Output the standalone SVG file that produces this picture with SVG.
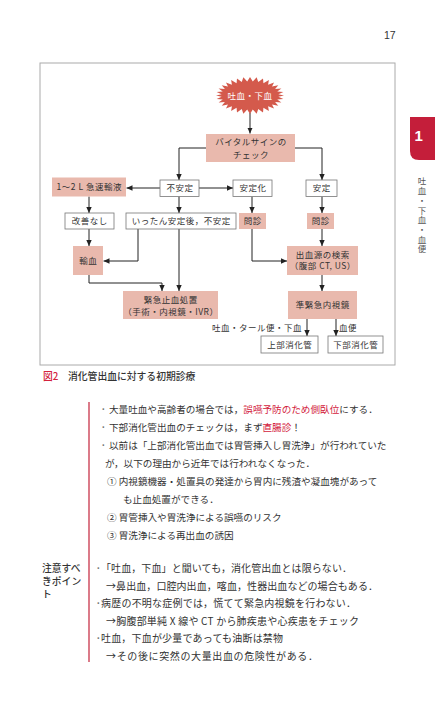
<svg xmlns="http://www.w3.org/2000/svg" width="435" height="720" viewBox="0 0 435 720">
<defs>
<marker id="ah" markerWidth="6" markerHeight="6" refX="6" refY="3" orient="auto" markerUnits="userSpaceOnUse">
<path d="M0,0.3 L6,3 L0,5.7 z" fill="#222"/>
</marker>
<style>
.fc{font-family:"Noto Sans CJK JP","Noto Sans",sans-serif;font-size:8.5px;fill:#333;letter-spacing:0.5px;text-anchor:middle}
.pk{fill:#e9b9ad}
.wb{fill:#fff;stroke:#777;stroke-width:0.8}
.cn{fill:none;stroke:#222;stroke-width:1}
.cn path{marker-end:url(#ah)}
.tx{font-family:"Noto Sans CJK JP","Noto Sans",sans-serif;font-size:9.6px;fill:#333}
.tx2{font-family:"Noto Sans CJK JP","Noto Sans",sans-serif;font-size:10px;fill:#333}
.bl{font-family:"Noto Sans",sans-serif;font-size:7px;fill:#777}
.rd{fill:#d3223d}
.lb{font-family:"Noto Sans CJK JP","Noto Sans",sans-serif;font-size:9.8px;font-weight:500;fill:#333}
</style>
</defs>
<rect width="435" height="720" fill="#fff"/>

<!-- page number and tab -->
<text x="384" y="39" font-family="Liberation Sans,Arial,sans-serif" font-size="10.5" fill="#333">17</text>
<path d="M410,117 H435 V160 H419 Q410,160 410,151 Z" fill="#c41e3a"/>
<text x="414.5" y="141" font-family="Liberation Sans,Arial,sans-serif" font-size="15" font-weight="bold" fill="#fff">1</text>
<text x="422" y="177" font-family="Noto Sans CJK JP,sans-serif" font-size="8.5" fill="#555" letter-spacing="1.2" style="writing-mode:vertical-rl">吐血・下血・血便</text>

<!-- frame -->
<rect x="40" y="63" width="355" height="302" fill="none" stroke="#aaa" stroke-width="1"/>

<!-- connectors -->
<g id="connectors" class="cn">
<path d="M250,113 V133.5"/>
<path d="M206,148 H179 V180"/>
<path d="M295,148 H322 V180"/>
<path d="M160,188 H126.5"/>
<path d="M199,188 H233"/>
<path d="M89,196.5 V213"/>
<path d="M179,196.5 V213"/>
<path d="M252,196.5 V213"/>
<path d="M322,196.5 V213"/>
<path d="M89,229 V246"/>
<path d="M138,229 V261 H103.5"/>
<path d="M89,275 V283 H162 V291"/>
<path d="M179,229 V291"/>
<path d="M252,229 V261 H287"/>
<path d="M322,229 V246"/>
<path d="M322,275 V291"/>
<path d="M307,319 V336"/>
<path d="M336,319 V336"/>
</g>

<!-- nodes -->
<g id="n-start">
<polygon transform="translate(250,95.5)" fill="#d45a4c" points="34,0 28.36,1.37 33.35,3.61 27.27,4.06 31.41,7.08 25.13,6.6 28.27,10.28 22.03,8.88 24.04,13.08 18.08,10.82 18.89,15.38 13.43,12.35 13.01,17.09 8.27,13.4 6.63,18.14 2.79,13.93 0,18.5 -2.79,13.93 -6.63,18.14 -8.27,13.4 -13.01,17.09 -13.43,12.35 -18.89,15.38 -18.08,10.82 -24.04,13.08 -22.03,8.88 -28.27,10.28 -25.13,6.6 -31.41,7.08 -27.27,4.06 -33.35,3.61 -28.36,1.37 -34,0 -28.36,-1.37 -33.35,-3.61 -27.27,-4.06 -31.41,-7.08 -25.13,-6.6 -28.27,-10.28 -22.03,-8.88 -24.04,-13.08 -18.08,-10.82 -18.89,-15.38 -13.43,-12.35 -13.01,-17.09 -8.27,-13.4 -6.63,-18.14 -2.79,-13.93 0,-18.5 2.79,-13.93 6.63,-18.14 8.27,-13.4 13.01,-17.09 13.43,-12.35 18.89,-15.38 18.08,-10.82 24.04,-13.08 22.03,-8.88 28.27,-10.28 25.13,-6.6 31.41,-7.08 27.27,-4.06 33.35,-3.61 28.36,-1.37"/>
<text class="fc" x="250" y="98.5" style="fill:#fff">吐血・下血</text>
</g>
<g id="n-vital">
<rect class="pk" x="206" y="134" width="89" height="28"/>
<text class="fc" x="251" y="145">バイタルサインの</text>
<text class="fc" x="251" y="157.5">チェック</text>
</g>
<g id="n-unstable">
<rect class="wb" x="160" y="180" width="39" height="16.5"/>
<text class="fc" x="180" y="191.3">不安定</text>
</g>
<g id="n-stabilized">
<rect class="wb" x="233" y="180" width="39" height="16.5"/>
<text class="fc" x="253" y="191.3">安定化</text>
</g>
<g id="n-stable">
<rect class="wb" x="306" y="180" width="31" height="16.5"/>
<text class="fc" x="321.8" y="191.3">安定</text>
</g>
<g id="n-infusion">
<rect class="pk" x="52" y="177.5" width="74" height="19"/>
<text class="fc" x="89.3" y="190">1～2 L 急速輸液</text>
</g>
<g id="n-noimprove">
<rect class="wb" x="65" y="213" width="49" height="16"/>
<text class="fc" x="89.8" y="224">改善なし</text>
</g>
<g id="n-once">
<rect class="wb" x="126" y="213" width="110" height="16"/>
<text class="fc" x="181.3" y="224">いったん安定後，不安定</text>
</g>
<g id="n-interview1">
<rect class="pk" x="239" y="213" width="27" height="16"/>
<text class="fc" x="252.8" y="224">問診</text>
</g>
<g id="n-interview2">
<rect class="pk" x="307" y="213" width="27" height="16"/>
<text class="fc" x="320.8" y="224">問診</text>
</g>
<g id="n-transfusion">
<rect class="pk" x="73" y="246" width="30" height="29"/>
<text class="fc" x="88.3" y="263.5">輸血</text>
</g>
<g id="n-source">
<rect class="pk" x="287" y="246" width="71" height="29"/>
<text class="fc" x="322.8" y="257.5">出血源の検索</text>
<text class="fc" x="322.8" y="269">（腹部 CT, US）</text>
</g>
<g id="n-emergency">
<rect class="pk" x="123" y="291" width="95" height="28"/>
<text class="fc" x="170.8" y="303">緊急止血処置</text>
<text class="fc" x="170.8" y="314.5">（手術・内視鏡・IVR）</text>
</g>
<g id="n-semi">
<rect class="pk" x="288" y="291" width="69" height="28"/>
<text class="fc" x="322.8" y="308">準緊急内視鏡</text>
</g>
<g id="n-upper">
<rect class="wb" x="261" y="336" width="57" height="17"/>
<text class="fc" x="289.8" y="347.5">上部消化管</text>
</g>
<g id="n-lower">
<rect class="wb" x="328" y="336" width="55" height="17"/>
<text class="fc" x="355.8" y="347.5">下部消化管</text>
</g>
<g id="labels">
<text class="fc" x="302" y="331" style="text-anchor:end">吐血・タール便・下血</text>
<text class="fc" x="339" y="331" style="text-anchor:start">血便</text>
</g>

<!-- caption -->
<text x="43" y="380" font-family="Noto Sans CJK JP,sans-serif" font-size="9.8" font-weight="500" fill="#d3223d">図2</text>
<text x="68" y="380" font-family="Noto Sans CJK JP,sans-serif" font-size="9.8" font-weight="500" fill="#333">消化管出血に対する初期診療</text>

<!-- notes -->
<line x1="89" y1="402" x2="89" y2="662" stroke="#c8344a" stroke-width="1.3"/>
<text class="bl" x="102" y="412">•</text>
<text class="tx" x="109" y="413">大量吐血や高齢者の場合では，<tspan class="rd">誤嚥予防のため側臥位</tspan>にする．</text>
<text class="bl" x="102" y="430">•</text>
<text class="tx" x="109" y="431">下部消化管出血のチェックは，まず<tspan class="rd">直腸診</tspan>！</text>
<text class="bl" x="102" y="448">•</text>
<text class="tx" x="109" y="449">以前は「上部消化管出血では胃管挿入し胃洗浄」が行われていた</text>
<text class="tx" x="105" y="467">が，以下の理由から近年では行われなくなった．</text>
<text class="tx" x="107" y="485">① 内視鏡機器・処置具の発達から胃内に残渣や凝血塊があって</text>
<text class="tx" x="123" y="503">も止血処置ができる．</text>
<text class="tx" x="107" y="521">② 胃管挿入や胃洗浄による誤嚥のリスク</text>
<text class="tx" x="107" y="539">③ 胃洗浄による再出血の誘因</text>

<text class="lb" x="42" y="571.5">注意すべ</text>
<text class="lb" x="42" y="584.5">きポイン</text>
<text class="lb" x="42" y="597.5">ト</text>

<text class="bl" x="97" y="571">•</text>
<text class="tx2" x="101" y="572" textLength="251">「吐血，下血」と聞いても，消化管出血とは限らない．</text>
<text class="tx2" x="106" y="589.5" textLength="272">→鼻出血，口腔内出血，喀血，性器出血などの場合もある．</text>
<text class="bl" x="97" y="606">•</text>
<text class="tx2" x="101" y="607" textLength="255">病歴の不明な症例では，慌てて緊急内視鏡を行わない．</text>
<text class="tx2" x="106" y="624.5" textLength="253">→胸腹部単純 X 線や CT から肺疾患や心疾患をチェック</text>
<text class="bl" x="97" y="641">•</text>
<text class="tx2" x="101" y="642" textLength="182">吐血，下血が少量であっても油断は禁物</text>
<text class="tx2" x="106" y="659.5" textLength="212">→その後に突然の大量出血の危険性がある．</text>
</svg>
